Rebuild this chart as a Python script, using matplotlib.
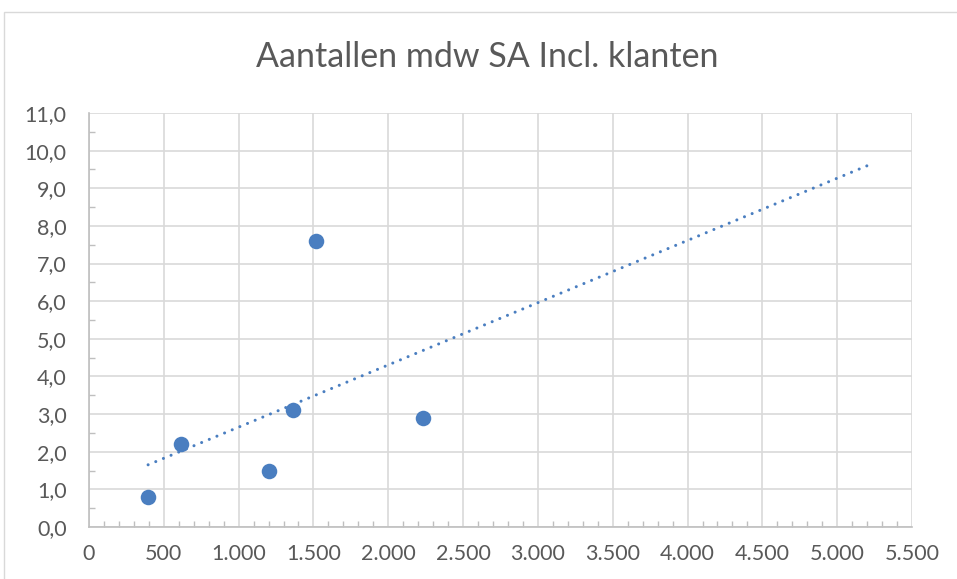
import numpy as np
import matplotlib
matplotlib.use("Agg")
import matplotlib.pyplot as plt
from matplotlib.ticker import MultipleLocator, FuncFormatter
from matplotlib.patches import Rectangle

title = "Aantallen mdw SA Incl. klanten"
x_vals = [395, 615, 1200, 1363, 1515, 2231]
y_vals = [0.8, 2.2, 1.5, 3.1, 7.6, 2.9]
trend_forward = 3000

blue = "#4A7EC0"
grid_col = "#D9D9D9"
text_col = "#595959"
font = "Lato"

plt.rcParams['font.family'] = [font, 'DejaVu Sans']

fig = plt.figure(figsize=(9.57, 5.79), dpi=100)
fig.patches.append(Rectangle((4/957, -0.1), 2, 1.1 - 12/579, transform=fig.transFigure,
                             fill=False, edgecolor=grid_col, linewidth=1.0))
ax = fig.add_axes([89/957, 52/579, (912-89)/957, (527-113)/579])

ax.scatter(x_vals, y_vals, s=125, color=blue, zorder=3, linewidths=0)

coef = np.polyfit(x_vals, y_vals, 1)
tx = np.array([min(x_vals), max(x_vals) + trend_forward])
ax.plot(tx, np.polyval(coef, tx), color=blue, linewidth=2.2,
        linestyle=(0, (0.01, 2.7)), dash_capstyle='round', zorder=2)

ax.set_xlim(0, 5500)
ax.set_ylim(0, 11)
ax.xaxis.set_major_locator(MultipleLocator(500))
ax.xaxis.set_minor_locator(MultipleLocator(100))
ax.yaxis.set_major_locator(MultipleLocator(1))
ax.yaxis.set_minor_locator(MultipleLocator(0.5))

def fmt_x(v, pos):
    return f"{int(round(v)):,}".replace(",", ".")

def fmt_y(v, pos):
    return f"{v:.1f}".replace(".", ",")

ax.xaxis.set_major_formatter(FuncFormatter(fmt_x))
ax.yaxis.set_major_formatter(FuncFormatter(fmt_y))

ax.grid(True, which='major', color=grid_col, linewidth=1.2, zorder=0)
ax.set_axisbelow(True)
for side in ['top', 'right']:
    ax.spines[side].set_visible(False)
for side in ['left', 'bottom']:
    ax.spines[side].set_color("#BFBFBF")
    ax.spines[side].set_linewidth(1.2)

ax.tick_params(which='major', length=0, labelsize=15.5, labelcolor=text_col)
ax.tick_params(axis='y', which='major', pad=16)
ax.tick_params(axis='x', which='major', pad=12)
ax.tick_params(which='minor', direction='in', length=4, color="#BFBFBF", width=1)

fig.text(487/957, 1 - 57/579, title, ha='center', va='center', fontsize=24.5, color=text_col)

fig.savefig("out.png", dpi=100)
